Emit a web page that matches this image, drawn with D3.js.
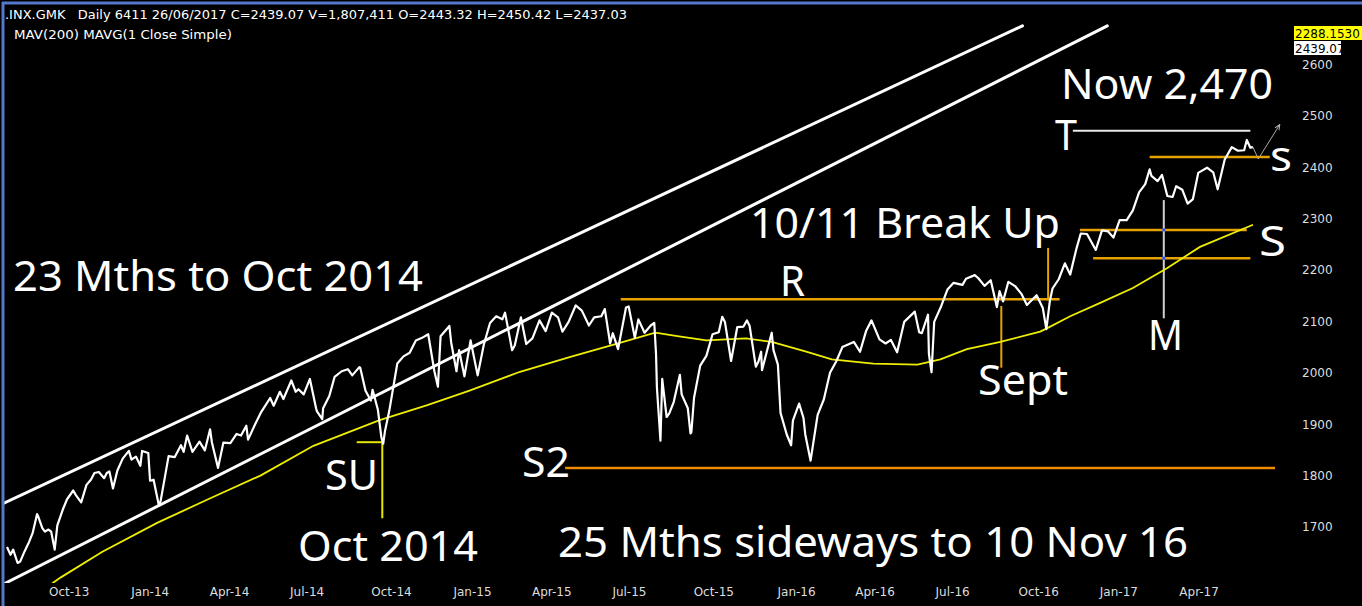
<!DOCTYPE html>
<html><head><meta charset="utf-8">
<script src="https://cdn.jsdelivr.net/npm/d3@7"></script>
<style>
html,body{margin:0;padding:0;background:#000;}
svg{display:block;}
</style></head><body>
<svg id="chart" width="1362" height="606"></svg>
<script>
// ---------------- DATA ----------------
const closeSeries = [
["2013-08-15",1661],["2013-08-19",1646],["2013-08-22",1656],["2013-08-27",1630],["2013-08-30",1633],
["2013-09-04",1653],["2013-09-09",1671],["2013-09-13",1688],["2013-09-18",1725],["2013-09-19",1722],
["2013-09-24",1698],["2013-09-27",1691],["2013-10-01",1695],["2013-10-04",1691],["2013-10-08",1656],
["2013-10-11",1703],["2013-10-17",1733],["2013-10-22",1754],["2013-10-29",1771],["2013-11-01",1762],
["2013-11-07",1748],["2013-11-13",1782],["2013-11-18",1792],["2013-11-22",1805],["2013-11-27",1807],
["2013-12-03",1795],["2013-12-06",1805],["2013-12-09",1808],["2013-12-13",1775],["2013-12-18",1810],
["2013-12-24",1833],["2013-12-31",1848],["2014-01-03",1831],["2014-01-08",1837],["2014-01-13",1819],
["2014-01-15",1848],["2014-01-22",1844],["2014-01-24",1790],["2014-01-28",1792],["2014-02-03",1742],
["2014-02-05",1751],["2014-02-10",1799],["2014-02-14",1838],["2014-02-21",1836],["2014-02-28",1859],
["2014-03-03",1846],["2014-03-07",1878],["2014-03-13",1846],["2014-03-21",1866],["2014-03-27",1849],
["2014-04-02",1890],["2014-04-04",1865],["2014-04-11",1815],["2014-04-17",1864],["2014-04-25",1863],
["2014-05-02",1881],["2014-05-07",1878],["2014-05-13",1897],["2014-05-15",1870],["2014-05-23",1900],
["2014-05-30",1924],["2014-06-09",1951],["2014-06-13",1936],["2014-06-20",1963],["2014-06-24",1949],
["2014-07-03",1985],["2014-07-08",1963],["2014-07-11",1968],["2014-07-17",1958],["2014-07-24",1988],
["2014-07-31",1931],["2014-08-01",1925],["2014-08-07",1910],["2014-08-08",1931],["2014-08-15",1955],
["2014-08-21",1992],["2014-08-29",2003],["2014-09-05",2007],["2014-09-10",1995],["2014-09-18",2011],
["2014-09-19",2010],["2014-09-25",1965],["2014-10-01",1946],["2014-10-03",1967],["2014-10-09",1928],
["2014-10-13",1874],["2014-10-15",1862],["2014-10-17",1886],["2014-10-22",1927],["2014-10-31",2018],
["2014-11-07",2032],["2014-11-14",2039],["2014-11-21",2063],["2014-11-28",2068],["2014-12-05",2075],
["2014-12-12",2003],["2014-12-16",1973],["2014-12-19",2071],["2014-12-29",2091],["2014-12-31",2059],
["2015-01-06",2003],["2015-01-09",2044],["2015-01-15",1993],["2015-01-22",2063],["2015-01-30",1995],
["2015-02-06",2055],["2015-02-13",2097],["2015-02-20",2110],["2015-02-27",2104],["2015-03-02",2117],
["2015-03-10",2044],["2015-03-13",2053],["2015-03-20",2108],["2015-03-26",2056],["2015-04-02",2067],
["2015-04-10",2102],["2015-04-17",2081],["2015-04-24",2117],["2015-05-01",2108],["2015-05-06",2080],
["2015-05-13",2099],["2015-05-21",2131],["2015-05-28",2121],["2015-06-05",2092],["2015-06-11",2108],
["2015-06-19",2110],["2015-06-23",2124],["2015-06-29",2057],["2015-07-02",2077],["2015-07-08",2046],
["2015-07-17",2127],["2015-07-20",2129],["2015-07-27",2068],["2015-07-31",2104],["2015-08-07",2078],
["2015-08-14",2092],["2015-08-18",2097],["2015-08-20",2036],["2015-08-21",1971],["2015-08-24",1894],
["2015-08-25",1868],["2015-08-27",1988],["2015-09-01",1914],["2015-09-04",1921],["2015-09-09",1943],
["2015-09-16",1996],["2015-09-18",1958],["2015-09-25",1931],["2015-09-28",1882],["2015-09-29",1884],
["2015-10-02",1951],["2015-10-09",2014],["2015-10-16",2033],["2015-10-23",2075],["2015-10-30",2079],
["2015-11-03",2109],["2015-11-06",2099],["2015-11-13",2023],["2015-11-20",2089],["2015-11-27",2090],
["2015-12-01",2102],["2015-12-04",2091],["2015-12-11",2012],["2015-12-14",2022],["2015-12-17",2041],
["2015-12-18",2005],["2015-12-29",2078],["2015-12-31",2044],["2016-01-05",2016],["2016-01-08",1922],
["2016-01-15",1880],["2016-01-20",1859],["2016-01-22",1907],["2016-01-29",1940],["2016-02-03",1912],
["2016-02-05",1880],["2016-02-11",1829],["2016-02-19",1918],["2016-02-26",1948],["2016-03-04",2000],
["2016-03-11",2022],["2016-03-18",2050],["2016-03-31",2060],["2016-04-07",2041],["2016-04-14",2082],
["2016-04-20",2102],["2016-04-29",2065],["2016-05-06",2057],["2016-05-12",2064],["2016-05-19",2040],
["2016-05-27",2099],["2016-06-08",2119],["2016-06-13",2079],["2016-06-16",2077],["2016-06-23",2113],
["2016-06-24",2037],["2016-06-27",2001],["2016-06-30",2099],["2016-07-08",2130],["2016-07-15",2162],
["2016-07-22",2175],["2016-08-01",2171],["2016-08-05",2183],["2016-08-15",2190],["2016-08-19",2184],
["2016-08-26",2169],["2016-09-02",2180],["2016-09-09",2128],["2016-09-12",2159],["2016-09-16",2139],
["2016-09-22",2177],["2016-09-30",2168],["2016-10-07",2153],["2016-10-13",2132],["2016-10-24",2151],
["2016-10-31",2126],["2016-11-04",2085],["2016-11-08",2140],["2016-11-11",2164],["2016-11-18",2182],
["2016-11-25",2213],["2016-12-01",2191],["2016-12-08",2241],["2016-12-13",2271],["2016-12-20",2270],
["2016-12-30",2239],["2017-01-06",2277],["2017-01-13",2275],["2017-01-19",2263],["2017-01-26",2297],
["2017-02-03",2297],["2017-02-10",2316],["2017-02-17",2351],["2017-02-24",2367],["2017-03-01",2396],
["2017-03-03",2383],["2017-03-10",2373],["2017-03-15",2385],["2017-03-21",2344],["2017-03-27",2342],
["2017-03-31",2363],["2017-04-07",2356],["2017-04-13",2329],["2017-04-19",2338],["2017-04-25",2389],
["2017-05-05",2399],["2017-05-12",2390],["2017-05-17",2357],["2017-05-25",2415],["2017-06-02",2439],
["2017-06-09",2432],["2017-06-16",2433],["2017-06-19",2453],["2017-06-23",2438],["2017-06-26",2439]
];

const movingAverage200 = [
["2013-10-05",1590],["2013-10-15",1602],["2013-12-01",1652],["2014-02-01",1708],["2014-04-01",1755],
["2014-05-29",1800],["2014-07-28",1858],["2014-10-11",1908],["2014-12-04",1937],["2015-01-20",1965],
["2015-03-19",2002],["2015-05-15",2031],["2015-07-10",2058],["2015-08-19",2078],["2015-09-15",2071],
["2015-10-16",2063],["2015-11-30",2067],["2015-12-29",2060],["2016-02-06",2041],["2016-03-06",2026],
["2016-04-22",2018],["2016-06-11",2016],["2016-07-07",2026],["2016-08-06",2046],["2016-09-13",2060],
["2016-10-28",2080],["2016-11-04",2086],["2016-12-01",2110],["2017-01-04",2136],["2017-02-10",2165],
["2017-03-21",2204],["2017-04-27",2245],["2017-06-26",2288]
];

const yTicks = [1700,1800,1900,2000,2100,2200,2300,2400,2500,2600];
const quarterTicks = ["2013-10-01","2014-01-02","2014-04-01","2014-07-01","2014-10-01","2015-01-02",
  "2015-04-01","2015-07-01","2015-10-01","2016-01-04","2016-04-01","2016-07-01","2016-10-03",
  "2017-01-03","2017-04-03"];

// trend channel (start/end as date, price)
const channelUpper = [["2013-08-10",1745],["2016-10-08",2675]];
const channelLower = [["2013-08-10",1588],["2017-01-12",2675]];

// horizontal levels: [name, price, from, to]
const levels = [
  ["R", 2143, "2015-07-11", "2016-11-19"],
  ["S2", 1815, "2015-05-09", "2017-07-21"],
  ["T", 2471, "2016-12-04", "2017-06-23"],
  ["s", 2420, "2017-03-01", "2017-07-15"],
  ["S-upper", 2278, "2016-12-12", "2017-06-19"],
  ["S-lower", 2223, "2016-12-27", "2017-06-23"],
  ["SU", 1865, "2014-09-15", "2014-10-14"]
];
// vertical markers: [name, date, fromPrice, toPrice]
const markers = [
  ["SU", "2014-10-14", 1864, 1717],
  ["BreakUp", "2016-11-06", 2243, 2141],
  ["Sept", "2016-09-14", 2130, 2010],
  ["M", "2017-03-17", 2336, 2106]
];
const projection = [["2017-06-26",2439],["2017-07-02",2416],["2017-07-26",2482]];

const headerLine1 = ".INX.GMK   Daily 6411 26/06/2017 C=2439.07 V=1,807,411 O=2443.32 H=2450.42 L=2437.03";
const headerLine2 = "MAV(200) MAVG(1 Close Simple)";
const lastMA = "2288.1530";
const lastClose = "2439.07";

// ---------------- CHART ----------------
const parse = d3.timeParse("%Y-%m-%d");
const W = 1362, H = 606;
const svg = d3.select("#chart");
const x = d3.scaleTime().domain([parse("2013-08-15"), parse("2017-07-30")]).range([7, 1283]);
const y = d3.scaleLinear().domain([1600, 2700]).range([578.4, 13]);

svg.append("rect").attr("width", W).attr("height", H).attr("fill", "#000");

svg.append("defs").append("clipPath").attr("id", "plot")
  .append("rect").attr("x", 4).attr("y", 5).attr("width", 1292).attr("height", 578);
svg.select("defs").append("marker").attr("id", "arrow")
  .attr("viewBox", "0 0 10 10").attr("refX", 8).attr("refY", 5)
  .attr("markerWidth", 6).attr("markerHeight", 6).attr("orient", "auto")
  .append("path").attr("d", "M0,1 L9,5 L0,9").attr("fill", "none").attr("stroke", "#bbb").attr("stroke-width", 1.5);

const g = svg.append("g").attr("clip-path", "url(#plot)");
const line = d3.line().x(d => x(parse(d[0]))).y(d => y(d[1]));

// channel
[channelUpper, channelLower].forEach(c => {
  g.append("path").attr("d", line(c)).attr("stroke", "#fff").attr("stroke-width", 3)
    .attr("fill", "none").attr("stroke-linecap", "round");
});

const levelColor = {R: "#e8a200", S2: "#f08a00", T: "#e8e8e8", s: "#e8a200",
  "S-upper": "#e8a200", "S-lower": "#e8a200", SU: "#e6e600"};
const levelWidth = {R: 2.5, S2: 2.5, T: 2, s: 2.5, "S-upper": 2.5, "S-lower": 2.5, SU: 2};
g.selectAll("line.level").data(levels).enter().append("line").attr("class", "level")
  .attr("x1", d => x(parse(d[2]))).attr("x2", d => x(parse(d[3])))
  .attr("y1", d => y(d[1])).attr("y2", d => y(d[1]))
  .attr("stroke", d => levelColor[d[0]]).attr("stroke-width", d => levelWidth[d[0]]);

const markerColor = {SU: "#e6e600", BreakUp: "#e8a200", Sept: "#e8a200", M: "#d0d0d0"};
g.selectAll("line.marker").data(markers).enter().append("line").attr("class", "marker")
  .attr("x1", d => x(parse(d[1]))).attr("x2", d => x(parse(d[1])))
  .attr("y1", d => y(d[2])).attr("y2", d => y(d[3]))
  .attr("stroke", d => markerColor[d[0]]).attr("stroke-width", 2);

// moving average
g.append("path").attr("d", line(movingAverage200)).attr("fill", "none")
  .attr("stroke", "#eeee00").attr("stroke-width", 1.8);

// price
g.append("path").attr("d", line(closeSeries)).attr("fill", "none")
  .attr("stroke", "#fff").attr("stroke-width", 2.2).attr("stroke-linejoin", "round");

// projection arrow
g.append("path").attr("d", line(projection)).attr("fill", "none")
  .attr("stroke", "#aaa").attr("stroke-width", 1).attr("marker-end", "url(#arrow)");

// M crossing dots
levels.filter(l => l[0] === "S-upper" || l[0] === "S-lower").forEach(l => {
  const m = markers.find(mk => mk[0] === "M");
  g.append("rect").attr("x", x(parse(m[1])) - 1.5).attr("y", y(l[1]) - 1.5)
    .attr("width", 3).attr("height", 3).attr("fill", "#3050ff");
});

// big annotation texts: [text, x, baseline, width]
const notes = [
  ["23 Mths to Oct 2014", 13, 291, 410],
  ["Now 2,470", 1061, 99, 212],
  ["T", 1055, 150, 22],
  ["s", 1270, 171, 22],
  ["10/11 Break Up", 750, 238, 310],
  ["S", 1259, 256, 27],
  ["R", 780, 296, 25],
  ["M", 1148, 350, 35],
  ["Sept", 978, 395, 90],
  ["SU", 325, 490, 53],
  ["S2", 522, 477, 48],
  ["Oct 2014", 298, 561, 180],
  ["25 Mths sideways to 10 Nov 16", 558, 557, 630]
];
svg.selectAll("text.note").data(notes).enter().append("text").attr("class", "note")
  .attr("x", d => d[1]).attr("y", d => d[2])
  .attr("textLength", d => d[3]).attr("lengthAdjust", "spacingAndGlyphs")
  .attr("fill", "#fff").attr("font-family", "'Noto Sans', 'DejaVu Sans', sans-serif")
  .attr("font-size", 42).text(d => d[0]);

// axes
const yAxis = d3.axisRight(y).tickValues(yTicks).tickSize(0).tickPadding(0).tickFormat(d3.format("d"));
const ya = svg.append("g").attr("transform", "translate(1302,0)").call(yAxis);
ya.select(".domain").remove();
ya.selectAll("text").attr("fill", "#ddd").attr("font-family", "'DejaVu Sans', sans-serif").attr("font-size", 12);

const xAxis = d3.axisBottom(x).tickValues(quarterTicks.map(parse)).tickSize(0).tickPadding(0)
  .tickFormat(d3.timeFormat("%b-%y"));
const xa = svg.append("g").attr("transform", "translate(0,587)").call(xAxis);
xa.select(".domain").remove();
xa.selectAll("text").attr("fill", "#ddd").attr("text-anchor", "start")
  .attr("font-family", "'DejaVu Sans', sans-serif").attr("font-size", 12);

// last value boxes
svg.append("rect").attr("x", 1294).attr("y", 26).attr("width", 68).attr("height", 14).attr("fill", "#ffff00");
svg.append("text").attr("x", 1295).attr("y", 38).text(lastMA).attr("fill", "#000")
  .attr("font-family", "'DejaVu Sans', sans-serif").attr("font-size", 12);
svg.append("rect").attr("x", 1294).attr("y", 41).attr("width", 47).attr("height", 14).attr("fill", "#fff");
svg.append("text").attr("x", 1295).attr("y", 53).text(lastClose).attr("fill", "#000")
  .attr("font-family", "'DejaVu Sans', sans-serif").attr("font-size", 12);

// header
svg.append("text").attr("x", 5).attr("y", 19).attr("xml:space", "preserve").style("white-space", "pre")
  .attr("textLength", 622).attr("lengthAdjust", "spacingAndGlyphs")
  .attr("fill", "#fff").attr("font-family", "'DejaVu Sans', sans-serif").attr("font-size", 12).text(headerLine1);
svg.append("text").attr("x", 14).attr("y", 39)
  .attr("textLength", 218).attr("lengthAdjust", "spacingAndGlyphs")
  .attr("fill", "#fff").attr("font-family", "'DejaVu Sans', sans-serif").attr("font-size", 12).text(headerLine2);

// frame (top & left blue border)
svg.append("line").attr("x1", 2).attr("x2", W).attr("y1", 3).attr("y2", 3).attr("stroke", "#5578cc").attr("stroke-width", 3);
svg.append("line").attr("x1", 3).attr("x2", 3).attr("y1", 2).attr("y2", H).attr("stroke", "#5578cc").attr("stroke-width", 3);
</script></body></html>
